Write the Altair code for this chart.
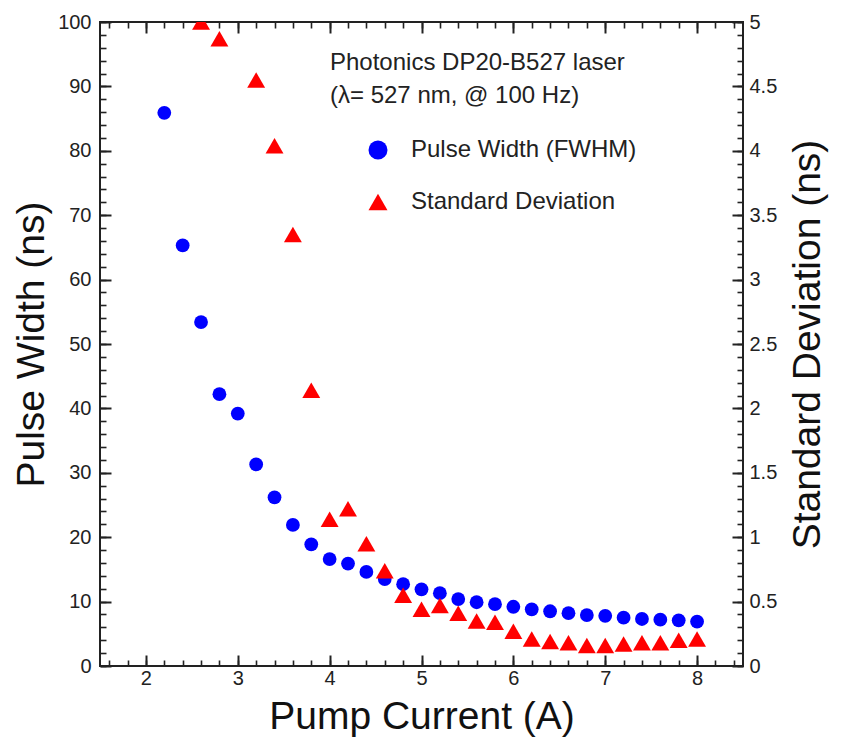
import altair as alt
import pandas as pd

# ---- data ----
pump_pw = [2.2, 2.4, 2.6, 2.8, 3.0, 3.2, 3.4, 3.6, 3.8, 4.0, 4.2, 4.4, 4.6, 4.8, 5.0,
           5.2, 5.4, 5.6, 5.8, 6.0, 6.2, 6.4, 6.6, 6.8, 7.0, 7.2, 7.4, 7.6, 7.8, 8.0]
pulse_width = [85.9, 65.3, 53.4, 42.2, 39.2, 31.3, 26.2, 21.9, 18.9, 16.6, 15.9, 14.6, 13.5, 12.7, 11.9,
               11.3, 10.4, 9.9, 9.6, 9.2, 8.8, 8.5, 8.2, 7.9, 7.8, 7.5, 7.3, 7.2, 7.1, 6.9]

pump_sd = [2.6, 2.8, 3.2, 3.4, 3.6, 3.8, 4.0, 4.2, 4.4, 4.6, 4.8, 5.0, 5.2, 5.4,
           5.6, 5.8, 6.0, 6.2, 6.4, 6.6, 6.8, 7.0, 7.2, 7.4, 7.6, 7.8, 8.0]
std_dev = [5.0, 4.87, 4.55, 4.04, 3.35, 2.14, 1.14, 1.22, 0.95, 0.74, 0.55, 0.44, 0.47, 0.41,
           0.35, 0.34, 0.27, 0.21, 0.19, 0.18, 0.16, 0.16, 0.17, 0.18, 0.18, 0.20, 0.21]

series_names = ["Pulse Width (FWHM)", "Standard Deviation"]
annotation = ["Photonics DP20-B527 laser", "(λ= 527 nm, @ 100 Hz)"]

x_domain = [1.5, 8.5]
y_left_domain = [0, 100]
y_right_domain = [0, 5]

x_major = [2, 3, 4, 5, 6, 7, 8]
x_minor = [round(1.6 + 0.2 * i, 1) for i in range(35)]
y_left_major = [0, 10, 20, 30, 40, 50, 60, 70, 80, 90, 100]
y_left_minor = [2 * i for i in range(51)]
y_right_major = [0, 0.5, 1, 1.5, 2, 2.5, 3, 3.5, 4, 4.5, 5]

df_pw = pd.DataFrame({"pump": pump_pw, "value": pulse_width, "series": series_names[0]})
df_sd = pd.DataFrame({"pump": pump_sd, "value": std_dev, "series": series_names[1]})

FONT = "Liberation Sans"
INK = "#222222"
MAJOR = 11
MINOR = 6
LABEL_SIZE = 20


def axis(orient, values, size, labels=False, width=2, **kw):
    return alt.Axis(orient=orient, values=values, tickSize=size, offset=-size,
                    domain=False, grid=False, ticks=True, labels=labels,
                    tickColor=INK, tickWidth=width, labelOverlap=False,
                    labelFont=FONT, labelFontSize=LABEL_SIZE, labelColor=INK, **kw)


def sc(domain):
    return alt.Scale(domain=domain, nice=False, zero=False)


color_scale = alt.Scale(domain=series_names, range=["#0000ff", "#ff0000"])
shape_scale = alt.Scale(domain=series_names, range=["circle", "triangle-up"])

legend = alt.Legend(
    title=annotation, orient="none", legendX=230, legendY=29,
    titleFont=FONT, titleFontSize=24, titleFontWeight="normal", titleColor=INK,
    titleLineHeight=33, titlePadding=30, titleAnchor="start", titleLimit=600,
    labelFont=FONT, labelFontSize=24, labelColor=INK, labelOffset=21, labelLimit=600,
    symbolSize=360, symbolOffset=36, symbolStrokeWidth=0, rowPadding=28, padding=0,
)

circles = alt.Chart(df_pw).mark_point(filled=True, size=190, opacity=1).encode(
    x=alt.X("pump:Q", scale=sc(x_domain), title="Pump Current (A)",
            axis=axis("bottom", x_major, MAJOR, labels=True, format=".0f",
                      labelPadding=2, titlePadding=9)),
    y=alt.Y("value:Q", scale=sc(y_left_domain), title="Pulse Width (ns)",
            axis=axis("left", y_left_major, MAJOR, labels=True, format=".0f",
                      labelPadding=9, titlePadding=6)),
    color=alt.Color("series:N", scale=color_scale, legend=legend),
    shape=alt.Shape("series:N", scale=shape_scale, legend=legend),
)

triangles = alt.Chart(df_sd).mark_point(filled=True, size=320, opacity=1, clip=True).encode(
    x=alt.X("pump:Q", scale=sc(x_domain), title=None,
            axis=axis("top", x_major, MAJOR)),
    y=alt.Y("value:Q", scale=sc(y_right_domain), title="Standard Deviation (ns)",
            axis=axis("right", y_right_major, MAJOR, labels=True, format=".1~f",
                      labelPadding=6, titlePadding=12, titleAngle=270,
                      titleBaseline="top")),
    color=alt.Color("series:N", scale=color_scale, legend=legend),
    shape=alt.Shape("series:N", scale=shape_scale, legend=legend),
)

minor_a = alt.Chart(df_pw).mark_point(opacity=0).encode(
    x=alt.X("pump:Q", scale=sc(x_domain), title=None,
            axis=axis("bottom", x_minor, MINOR, width=1.6)),
    y=alt.Y("value:Q", scale=sc(y_left_domain), title=None,
            axis=axis("left", y_left_minor, MINOR, width=1.6)),
)

minor_b = alt.Chart(df_pw).mark_point(opacity=0).encode(
    x=alt.X("pump:Q", scale=sc(x_domain), title=None,
            axis=axis("top", x_minor, MINOR, width=1.6)),
    y=alt.Y("value:Q", scale=sc(y_left_domain), title=None,
            axis=axis("right", y_left_minor, MINOR, width=1.6)),
)

chart = alt.layer(circles, triangles, minor_a, minor_b).resolve_scale(
    x="independent", y="independent"
).properties(
    width=643, height=644,
    autosize=alt.AutoSizeParams(type="none"),
    padding={"left": 100, "top": 22, "right": 102, "bottom": 76},
    background="white",
).configure_view(
    stroke=INK, strokeWidth=2
).configure_axis(
    titleFont=FONT, titleFontSize=39, titleFontWeight="normal", titleColor="#111111",
)

chart.save("out.html", embed_options={"renderer": "svg", "actions": False})
